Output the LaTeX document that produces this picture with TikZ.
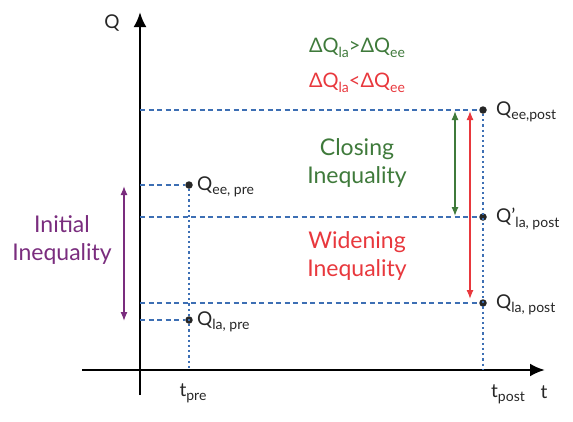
\documentclass[tikz,border=0pt]{standalone}
\usepackage{fontspec}
\setmainfont{Lato}
\usetikzlibrary{arrows.meta}
\definecolor{guideblue}{HTML}{3D6FB4}
\definecolor{closegreen}{HTML}{3F7A3B}
\definecolor{widenred}{HTML}{E8383D}
\definecolor{initpurple}{HTML}{7A2D7E}
% subscript at a fixed size
\newcommand{\lo}[1]{\raisebox{-0.45ex}{\fontsize{14}{14}\selectfont #1}}
\begin{document}
\begin{tikzpicture}[x=1pt, y=-1pt, >={Latex[length=9pt, width=7pt]},
    axis/.style={line width=2.6pt, -{Latex[length=15pt, width=13pt]}},
    hguide/.style={guideblue, line width=1.3pt, dash pattern=on 5pt off 3.5pt},
    vguide/.style={guideblue, line width=1.6pt, dash pattern=on 2.2pt off 3pt},
    dot/.style={circle, fill=black!85, inner sep=0pt, minimum size=7.5pt},
    qlabel/.style={anchor=west, inner sep=0pt, text=black!85, font=\fontsize{19}{22}\selectfont},
    tlabel/.style={text=black!85, font=\fontsize{19}{22}\selectfont},
    gap/.style={<->, line width=1.3pt, shorten <=1pt, shorten >=1pt},
    words/.style={align=center, font=\fontsize{23}{28}\selectfont}]
    \useasboundingbox (0,0) rectangle (573,421);

    % Axes
    \coordinate (origin) at (140,370);
    \draw[axis] (140,395) -- (140,12);
    \draw[axis] (82,370) -- (545,370);
    \node[tlabel] (qaxis) at (112,23) {Q};
    \node[tlabel] (taxis) at (544,392) {t};
    \node[tlabel] (tpre) at (193,393) {t\lo{pre}};
    \node[tlabel] (tpost) at (508,394) {t\lo{post}};

    % Points on the curves
    \node[dot] (eepre) at (189,185) {};
    \node[dot] (lapre) at (189,320) {};
    \node[dot] (eepost) at (483,110) {};
    \node[dot] (lapostp) at (483,217) {};
    \node[dot] (lapost) at (483,303) {};

    % Guide lines to the axes
    \draw[hguide] (140,185) -- (eepre);
    \draw[hguide] (140,320) -- (lapre);
    \draw[hguide] (140,110) -- (eepost);
    \draw[hguide] (140,217) -- (lapostp);
    \draw[hguide] (140,303) -- (lapost);
    \draw[vguide] (eepre) -- (189,370);
    \draw[vguide] (eepost) -- (483,370);

    % Point labels
    \node[qlabel] (eepretxt) at (197,187) {Q\lo{ee, pre}};
    \node[qlabel] (lapretxt) at (197,322) {Q\lo{la, pre}};
    \node[qlabel] (eeposttxt) at (496,112) {Q\lo{ee,post}};
    \node[qlabel] (lapostptxt) at (496,219) {Q’\lo{la, post}};
    \node[qlabel] (laposttxt) at (496,305) {Q\lo{la, post}};

    % Gaps between the groups
    \coordinate (ini top) at (124,185);
    \coordinate (ini bot) at (124,322);
    \draw[gap, initpurple] (ini top) -- (ini bot);
    \coordinate (cls top) at (455,110);
    \coordinate (cls bot) at (455,217);
    \draw[gap, closegreen] (cls top) -- (cls bot);
    \coordinate (wid top) at (470,110);
    \coordinate (wid bot) at (470,300);
    \draw[gap, widenred] (wid top) -- (wid bot);

    % Texts
    \node[words, initpurple] (initial) at (62,240) {Initial\\Inequality};
    \node[words, closegreen] (closing) at (357,163) {Closing\\Inequality};
    \node[words, widenred] (widening) at (357,256) {Widening\\Inequality};
    \node[closegreen, font=\fontsize{20}{22}\selectfont] (more) at (357,48) {ΔQ\lo{la}>ΔQ\lo{ee}};
    \node[widenred, font=\fontsize{20}{22}\selectfont] (less) at (357,83) {ΔQ\lo{la}<ΔQ\lo{ee}};
\end{tikzpicture}
\end{document}
